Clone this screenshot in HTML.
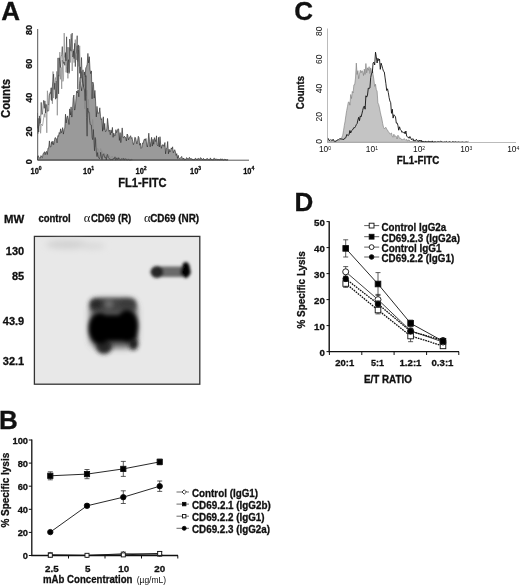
<!DOCTYPE html>
<html><head><meta charset="utf-8"><title>Figure</title>
<style>
html,body{margin:0;padding:0;background:#fff;}
body{width:520px;height:587px;overflow:hidden;}
svg{display:block;will-change:transform;}
text{font-family:"Liberation Sans",sans-serif;fill:#111;}
.s{font-family:"Liberation Serif",serif;}
.b{font-weight:bold;stroke:#111;stroke-width:0.3px;}
.r{font-weight:normal;}
</style></head><body>
<svg width="520" height="587" viewBox="0 0 520 587">
<defs>
<filter id="bl3" x="-30%" y="-50%" width="160%" height="200%"><feGaussianBlur stdDeviation="3"/></filter>
<filter id="bl2" x="-30%" y="-30%" width="160%" height="160%"><feGaussianBlur stdDeviation="2"/></filter>
<filter id="bl15" x="-30%" y="-50%" width="160%" height="200%"><feGaussianBlur stdDeviation="1.5"/></filter>
</defs>
<rect width="520" height="587" fill="#fff"/>
<path d="M37.5 160.0 L37.5 156.7 L38.2 155.7 L38.9 157.2 L39.6 158.1 L40.3 158.2 L41.0 155.6 L41.7 157.2 L42.4 157.7 L43.1 153.6 L43.8 153.2 L44.5 151.7 L45.2 154.7 L45.9 151.9 L46.6 151.3 L47.3 154.5 L48.0 148.1 L48.7 147.9 L49.4 140.9 L50.1 146.7 L50.8 147.0 L51.5 141.7 L52.2 144.4 L52.9 141.1 L53.6 144.7 L54.3 141.6 L55.0 137.7 L55.7 137.8 L56.4 139.0 L57.1 142.8 L57.8 135.7 L58.5 136.2 L59.2 132.5 L59.9 133.6 L60.6 128.8 L61.3 132.8 L62.0 130.7 L62.7 127.6 L63.4 134.1 L64.1 129.3 L64.8 128.2 L65.5 114.2 L66.2 122.9 L66.9 117.4 L67.6 115.9 L68.3 119.1 L69.0 124.5 L69.7 108.9 L70.4 115.0 L71.1 106.9 L71.8 117.1 L72.5 110.4 L73.2 98.2 L73.9 95.0 L74.6 110.1 L75.3 108.4 L76.0 98.2 L76.7 91.1 L77.4 92.9 L78.1 89.9 L78.8 96.8 L79.5 83.5 L80.2 77.3 L80.9 85.9 L81.6 90.8 L82.3 83.6 L83.0 69.8 L83.7 86.5 L84.4 71.9 L85.1 76.7 L85.8 67.9 L86.5 66.7 L87.2 64.2 L87.9 53.4 L88.6 62.9 L89.3 56.7 L90.0 69.2 L90.7 73.6 L91.4 70.9 L92.1 98.8 L92.8 82.0 L93.5 84.5 L94.2 98.1 L94.9 90.4 L95.6 101.1 L96.3 116.9 L97.0 106.4 L97.7 113.4 L98.4 113.0 L99.1 113.2 L99.8 107.8 L100.5 116.6 L101.2 119.6 L101.9 118.6 L102.6 131.2 L103.3 116.8 L104.0 129.7 L104.7 123.4 L105.4 131.6 L106.1 131.3 L106.8 129.0 L107.5 118.4 L108.2 124.6 L108.9 131.3 L109.6 130.2 L110.3 134.7 L111.0 129.9 L111.7 132.9 L112.4 127.4 L113.1 137.3 L113.8 133.1 L114.5 135.8 L115.2 135.6 L115.9 129.7 L116.6 132.6 L117.3 130.9 L118.0 128.7 L118.7 129.2 L119.4 140.4 L120.1 132.6 L120.8 142.6 L121.5 135.8 L122.2 127.9 L122.9 137.0 L123.6 138.1 L124.3 136.2 L125.0 137.2 L125.7 137.5 L126.4 141.0 L127.1 134.0 L127.8 135.1 L128.5 139.8 L129.2 137.9 L129.9 136.9 L130.6 135.7 L131.3 138.4 L132.0 137.5 L132.7 141.4 L133.4 144.6 L134.1 142.7 L134.8 137.3 L135.5 137.7 L136.2 141.0 L136.9 143.9 L137.6 140.9 L138.3 136.3 L139.0 137.7 L139.7 145.2 L140.4 143.2 L141.1 148.4 L141.8 147.5 L142.5 143.0 L143.2 143.5 L143.9 140.1 L144.6 138.9 L145.3 140.4 L146.0 138.5 L146.7 145.0 L147.4 147.0 L148.1 141.1 L148.8 133.2 L149.5 141.4 L150.2 146.8 L150.9 141.6 L151.6 137.3 L152.3 146.1 L153.0 139.3 L153.7 144.3 L154.4 137.6 L155.1 139.6 L155.8 141.6 L156.5 135.8 L157.2 144.7 L157.9 145.9 L158.6 137.3 L159.3 147.0 L160.0 136.7 L160.7 144.6 L161.4 148.3 L162.1 145.0 L162.8 144.8 L163.5 144.9 L164.2 146.4 L164.9 142.5 L165.6 153.8 L166.3 148.3 L167.0 147.7 L167.7 141.5 L168.4 153.8 L169.1 149.2 L169.8 152.1 L170.5 151.1 L171.2 147.9 L171.9 149.0 L172.6 146.8 L173.3 152.8 L174.0 151.0 L174.7 149.7 L175.4 151.6 L176.1 155.4 L176.8 153.6 L177.5 158.4 L178.2 155.3 L178.9 158.2 L179.6 158.6 L180.3 158.1 L181.0 157.4 L181.7 156.4 L182.4 158.8 L183.1 159.1 L183.8 158.0 L184.5 159.8 L185.2 159.6 L185.9 159.3 L186.6 157.6 L187.3 158.6 L188.0 158.7 L188.7 158.9 L189.4 157.3 L190.1 158.6 L190.8 158.8 L191.5 158.6 L192.2 159.6 L192.9 159.1 L193.6 159.7 L194.3 159.8 L195.0 158.5 L195.7 158.3 L196.4 159.0 L197.1 159.9 L197.8 158.5 L198.5 158.4 L199.2 159.1 L199.9 159.2 L200.6 157.6 L201.3 158.5 L202.0 158.9 L202.7 159.6 L203.4 158.3 L204.1 159.2 L204.8 159.7 L205.5 159.7 L206.2 158.8 L206.9 159.1 L207.6 158.5 L208.3 159.5 L209.0 159.9 L209.7 159.7 L210.4 157.9 L211.1 159.4 L211.8 159.6 L212.5 159.7 L213.2 159.9 L213.9 158.2 L214.6 158.4 L215.3 159.0 L216.0 159.5 L216.7 158.8 L217.4 159.7 L218.1 159.5 L218.8 159.5 L219.5 159.7 L220.2 159.1 L220.9 159.1 L221.6 159.3 L222.3 159.1 L223.0 159.6 L223.7 160.0 L224.4 159.4 L225.1 159.4 L225.8 159.6 L226.5 159.9 L227.2 160.0 L227.9 159.6 L227.9 160.0 Z" fill="#9a9a9a" stroke="#222" stroke-width="0.6" stroke-linejoin="round"/>
<path d="M37.5 112.9 L37.5 112.9 L38.1 133.6 L38.7 125.7 L39.4 125.5 L40.0 118.5 L40.6 133.3 L41.2 124.0 L41.8 124.8 L42.5 125.7 L43.1 122.0 L43.7 117.5 L44.3 113.8 L44.9 117.3 L45.6 103.8 L46.2 110.5 L46.8 132.8 L47.4 90.8 L48.0 103.6 L48.7 105.1 L49.3 93.5 L49.9 92.3 L50.5 92.4 L51.1 99.8 L51.8 87.7 L52.4 103.8 L53.0 71.5 L53.6 98.1 L54.2 85.4 L54.9 81.4 L55.5 77.6 L56.1 81.0 L56.7 71.4 L57.3 115.3 L58.0 75.9 L58.6 74.9 L59.2 76.3 L59.8 52.1 L60.4 79.3 L61.1 67.4 L61.7 88.9 L62.3 60.1 L62.9 81.4 L63.5 79.4 L64.2 33.1 L64.8 57.4 L65.4 53.7 L66.0 72.3 L66.6 66.5 L67.3 47.1 L67.9 78.4 L68.5 47.3 L69.1 72.1 L69.7 47.5 L70.4 62.5 L71.0 34.2 L71.6 53.2 L72.2 71.0 L72.8 57.8 L73.5 49.5 L74.1 62.6 L74.7 47.4 L75.3 39.6 L75.9 54.0 L76.6 59.9 L77.2 45.8 L77.8 61.5 L78.4 49.9 L79.0 66.5 L79.7 45.8 L80.3 70.8 L80.9 82.3 L81.5 71.5 L82.1 82.4 L82.8 88.4 L83.4 81.9 L84.0 75.1 L84.6 108.8 L85.2 88.9 L85.9 92.7 L86.5 95.6 L87.1 90.1 L87.7 114.1 L88.3 99.4 L89.0 111.3 L89.6 112.1 L90.2 119.0 L90.8 123.8 L91.4 129.2 L92.1 126.5 L92.7 119.4 L93.3 129.5 L93.9 133.9 L94.5 138.7 L95.2 147.0 L95.8 144.5 L96.4 139.5 L97.0 155.6 L97.6 148.3 L98.3 149.3 L98.9 153.4 L99.5 152.3 L100.1 150.7 L100.7 148.5 L101.4 151.6 L102.0 150.9 L102.6 155.1 L103.2 154.0 L103.8 156.1 L104.5 156.0 L105.1 158.2 L105.7 155.4 L106.3 153.6 L106.9 157.7 L107.6 156.8 L108.2 156.1 L108.8 157.6 L109.4 155.7 L110.0 157.4 L110.7 159.5 L111.3 156.6 L111.9 157.0 L112.5 156.2 L113.1 158.0 L113.8 158.2 L114.4 159.3 L115.0 159.5 L115.6 159.7 L116.2 158.5 L116.9 159.6 L117.5 159.6 L118.1 157.9 L118.7 158.4 L119.3 159.7 L120.0 159.8 L120.6 160.0 L121.2 158.2 L121.8 159.6 L122.4 159.7 L123.1 157.8 L123.7 159.3 L124.3 159.3 L124.9 159.3 L125.5 158.9 L126.2 159.5 L126.8 158.3 L127.4 159.4 L128.0 159.9 L128.6 158.6 L129.3 159.9 L129.9 159.4 L130.5 159.8 L131.1 159.3 L131.7 159.4 L132.4 159.6" fill="none" stroke="#8a8a8a" stroke-width="0.7" stroke-linejoin="round"/>
<path d="M37.5 128.4 L37.5 128.4 L38.1 118.3 L38.7 132.0 L39.4 115.9 L40.0 123.4 L40.6 121.5 L41.2 102.4 L41.8 114.4 L42.5 114.1 L43.1 105.7 L43.7 100.3 L44.3 108.3 L44.9 100.9 L45.6 113.1 L46.2 105.7 L46.8 104.5 L47.4 111.2 L48.0 111.2 L48.7 110.8 L49.3 95.7 L49.9 93.5 L50.5 93.4 L51.1 87.8 L51.8 100.7 L52.4 86.1 L53.0 81.2 L53.6 74.1 L54.2 89.5 L54.9 83.2 L55.5 99.2 L56.1 81.0 L56.7 98.3 L57.3 88.1 L58.0 57.9 L58.6 93.9 L59.2 57.8 L59.8 61.5 L60.4 67.5 L61.1 56.8 L61.7 54.4 L62.3 46.6 L62.9 60.5 L63.5 63.4 L64.2 62.1 L64.8 65.3 L65.4 52.5 L66.0 60.9 L66.6 36.8 L67.3 72.9 L67.9 62.3 L68.5 59.7 L69.1 73.4 L69.7 39.1 L70.4 48.6 L71.0 51.2 L71.6 37.7 L72.2 33.1 L72.8 57.1 L73.5 51.0 L74.1 58.6 L74.7 43.3 L75.3 66.6 L75.9 54.6 L76.6 51.2 L77.2 35.7 L77.8 89.2 L78.4 44.9 L79.0 54.3 L79.7 73.3 L80.3 66.9 L80.9 78.2 L81.5 57.5 L82.1 76.1 L82.8 83.3 L83.4 86.1 L84.0 88.4 L84.6 90.8 L85.2 100.6 L85.9 75.6 L86.5 117.4 L87.1 136.2 L87.7 108.1 L88.3 112.1 L89.0 111.9 L89.6 120.7 L90.2 124.3 L90.8 125.0 L91.4 125.1 L92.1 137.4 L92.7 139.7 L93.3 129.5 L93.9 140.4 L94.5 150.8 L95.2 137.5 L95.8 146.1 L96.4 153.1 L97.0 156.6 L97.6 152.6 L98.3 157.1 L98.9 158.0 L99.5 158.9 L100.1 156.7 L100.7 152.2 L101.4 157.0 L102.0 159.7 L102.6 156.1 L103.2 154.3 L103.8 153.7 L104.5 157.3 L105.1 157.4 L105.7 157.3 L106.3 160.0 L106.9 155.8 L107.6 154.4 L108.2 157.3 L108.8 158.3 L109.4 158.5 L110.0 159.7 L110.7 159.8 L111.3 159.1 L111.9 159.8 L112.5 159.8 L113.1 158.4 L113.8 158.9 L114.4 158.7 L115.0 156.8 L115.6 159.8 L116.2 159.8 L116.9 157.8 L117.5 159.5 L118.1 159.5 L118.7 157.7 L119.3 159.1 L120.0 159.6 L120.6 159.7 L121.2 159.8 L121.8 158.6 L122.4 159.2 L123.1 159.8 L123.7 158.4 L124.3 159.8 L124.9 159.8 L125.5 158.7 L126.2 159.5 L126.8 159.8 L127.4 159.9 L128.0 159.4 L128.6 159.5 L129.3 160.0 L129.9 159.7 L130.5 159.9 L131.1 159.6 L131.7 159.8 L132.4 159.7" fill="none" stroke="#2e2e2e" stroke-width="0.6" stroke-linejoin="round"/>
<path d="M37.7 29 V160.2 H249" fill="none" stroke="#444" stroke-width="0.9"/>
<text transform="translate(32.2,161.8) rotate(-90)" text-anchor="middle" class="b" font-size="9">0</text>
<text transform="translate(32.2,131.5) rotate(-90)" text-anchor="middle" class="b" font-size="9">20</text>
<text transform="translate(32.2,97.7) rotate(-90)" text-anchor="middle" class="b" font-size="9">40</text>
<text transform="translate(32.2,63.8) rotate(-90)" text-anchor="middle" class="b" font-size="9">60</text>
<text transform="translate(32.2,30.1) rotate(-90)" text-anchor="middle" class="b" font-size="9">80</text>
<text x="30.5" y="173.6" class="b" font-size="9"><tspan textLength="8.3" lengthAdjust="spacingAndGlyphs">10</tspan><tspan dy="-3.2" font-size="5">0</tspan></text>
<text x="83.0" y="173.6" class="b" font-size="9"><tspan textLength="8.3" lengthAdjust="spacingAndGlyphs">10</tspan><tspan dy="-3.2" font-size="5">1</tspan></text>
<text x="135.5" y="173.6" class="b" font-size="9"><tspan textLength="8.3" lengthAdjust="spacingAndGlyphs">10</tspan><tspan dy="-3.2" font-size="5">2</tspan></text>
<text x="190.0" y="173.6" class="b" font-size="9"><tspan textLength="8.3" lengthAdjust="spacingAndGlyphs">10</tspan><tspan dy="-3.2" font-size="5">3</tspan></text>
<text x="243.2" y="173.6" class="b" font-size="9"><tspan textLength="8.3" lengthAdjust="spacingAndGlyphs">10</tspan><tspan dy="-3.2" font-size="5">4</tspan></text>
<text transform="translate(10,118) rotate(-90)" class="b" font-size="12" textLength="39" lengthAdjust="spacingAndGlyphs">Counts</text>
<text x="118.2" y="187.3" class="b" font-size="12" textLength="48.5" lengthAdjust="spacingAndGlyphs">FL1-FITC</text>
<text x="1.3" y="19.7" class="b" font-size="26">A</text>
<path d="M327.5 142.3 L327.5 139.4 L328.3 139.3 L329.1 140.2 L329.9 141.3 L330.7 141.9 L331.5 141.0 L332.3 140.7 L333.1 140.3 L333.9 141.9 L334.7 142.0 L335.5 140.7 L336.3 140.8 L337.1 140.1 L337.9 140.2 L338.7 140.8 L339.5 140.7 L340.3 138.2 L341.1 139.0 L341.9 137.2 L342.7 135.3 L343.5 130.7 L344.3 125.4 L345.1 121.2 L345.9 115.4 L346.7 110.5 L347.5 106.4 L348.3 102.2 L349.1 101.9 L349.9 105.2 L350.7 94.5 L351.5 98.5 L352.3 91.4 L353.1 92.9 L353.9 84.8 L354.7 84.6 L355.5 78.0 L356.3 63.1 L357.1 74.5 L357.9 70.6 L358.7 78.7 L359.5 74.3 L360.3 70.2 L361.1 72.8 L361.9 70.6 L362.7 71.3 L363.5 75.5 L364.3 69.1 L365.1 74.4 L365.9 63.5 L366.7 72.8 L367.5 67.8 L368.3 70.4 L369.1 66.7 L369.9 73.5 L370.7 67.9 L371.5 73.0 L372.3 68.8 L373.1 74.6 L373.9 79.8 L374.7 86.4 L375.5 84.2 L376.3 89.6 L377.1 91.2 L377.9 102.9 L378.7 104.5 L379.5 108.1 L380.3 112.2 L381.1 115.8 L381.9 119.1 L382.7 123.6 L383.5 127.2 L384.3 128.7 L385.1 128.0 L385.9 127.3 L386.7 129.2 L387.5 130.1 L388.3 131.6 L389.1 132.5 L389.9 133.9 L390.7 133.7 L391.5 133.0 L392.3 136.5 L393.1 137.2 L393.9 134.2 L394.7 136.6 L395.5 136.0 L396.3 136.4 L397.1 139.0 L397.9 135.2 L398.7 136.3 L399.5 138.3 L400.3 138.0 L401.1 138.8 L401.9 140.0 L402.7 139.5 L403.5 139.2 L404.3 138.8 L405.1 139.4 L405.9 140.2 L406.7 139.3 L407.5 141.2 L408.3 140.1 L409.1 139.9 L409.9 141.0 L410.7 142.2 L411.5 141.6 L412.3 140.9 L413.1 140.8 L413.9 140.2 L414.7 141.9 L415.5 141.3 L416.3 141.0 L417.1 141.6 L417.9 142.0 L418.7 140.4 L419.5 141.2 L420.3 142.2 L421.1 142.0 L421.9 141.8 L422.7 140.8 L423.5 141.7 L424.3 141.9 L425.1 141.3 L425.9 142.0 L426.7 141.4 L427.5 142.3 L428.3 142.2 L429.1 141.9 L429.9 141.6 L430.7 141.9 L431.5 142.1 L432.3 142.0 L433.1 142.1 L433.9 142.0 L434.7 142.0 L435.5 142.3 L435.5 142.3 Z" fill="#c4c4c4" stroke="#777" stroke-width="0.6" stroke-linejoin="round"/>
<path d="M327.5 138.2 L327.5 138.2 L328.3 138.5 L329.1 140.4 L329.9 140.6 L330.7 139.6 L331.5 140.3 L332.3 140.5 L333.1 139.2 L333.9 140.8 L334.7 141.3 L335.5 141.4 L336.3 140.9 L337.1 140.2 L337.9 139.9 L338.7 139.5 L339.5 138.9 L340.3 138.8 L341.1 139.4 L341.9 138.8 L342.7 139.2 L343.5 140.0 L344.3 138.4 L345.1 138.2 L345.9 137.7 L346.7 134.6 L347.5 135.0 L348.3 135.6 L349.1 134.3 L349.9 130.5 L350.7 133.0 L351.5 130.8 L352.3 130.2 L353.1 129.0 L353.9 127.5 L354.7 127.8 L355.5 126.5 L356.3 124.6 L357.1 123.6 L357.9 120.1 L358.7 117.3 L359.5 120.7 L360.3 115.9 L361.1 116.8 L361.9 113.8 L362.7 110.4 L363.5 107.2 L364.3 106.1 L365.1 109.2 L365.9 95.8 L366.7 97.1 L367.5 95.0 L368.3 88.1 L369.1 88.7 L369.9 88.0 L370.7 77.6 L371.5 73.4 L372.3 73.0 L373.1 62.9 L373.9 62.1 L374.7 65.0 L375.5 52.2 L376.3 56.9 L377.1 63.0 L377.9 58.3 L378.7 60.5 L379.5 59.0 L380.3 69.3 L381.1 63.2 L381.9 65.7 L382.7 68.7 L383.5 71.2 L384.3 72.0 L385.1 77.9 L385.9 83.7 L386.7 90.5 L387.5 88.8 L388.3 92.5 L389.1 97.5 L389.9 101.0 L390.7 102.7 L391.5 113.3 L392.3 109.2 L393.1 118.1 L393.9 114.7 L394.7 115.7 L395.5 116.9 L396.3 123.1 L397.1 122.9 L397.9 125.2 L398.7 130.2 L399.5 126.8 L400.3 129.4 L401.1 130.2 L401.9 132.4 L402.7 131.9 L403.5 132.6 L404.3 131.9 L405.1 133.9 L405.9 131.0 L406.7 136.3 L407.5 136.9 L408.3 137.1 L409.1 138.3 L409.9 136.5 L410.7 137.8 L411.5 139.9 L412.3 139.1 L413.1 138.7 L413.9 141.1 L414.7 140.4 L415.5 140.8 L416.3 139.3 L417.1 140.5 L417.9 141.1 L418.7 141.3 L419.5 140.0 L420.3 141.4 L421.1 140.0 L421.9 142.1 L422.7 141.5 L423.5 141.6 L424.3 141.9 L425.1 141.7 L425.9 141.4 L426.7 142.0 L427.5 141.7 L428.3 141.1 L429.1 142.0 L429.9 141.6 L430.7 141.8 L431.5 142.1 L432.3 140.9 L433.1 142.3 L433.9 142.2 L434.7 141.8 L435.5 141.7 L436.3 142.1 L437.1 141.6 L437.9 141.9 L438.7 141.6 L439.5 141.8 L440.3 141.3 L441.1 141.6 L441.9 141.6 L442.7 142.1 L443.5 142.1 L444.3 141.8 L445.1 142.2 L445.9 141.7 L446.7 141.5 L447.5 142.2 L448.3 142.1 L449.1 141.7 L449.9 141.7 L450.7 142.1 L451.5 142.3 L452.3 141.7 L453.1 141.7 L453.9 142.0 L454.7 142.0 L455.5 141.7 L456.3 142.1 L457.1 141.9 L457.9 142.3 L458.7 141.8 L459.5 142.1 L460.3 142.2 L461.1 142.0 L461.9 142.2 L462.7 141.9 L463.5 142.2 L464.3 142.3 L465.1 142.0 L465.9 142.1 L466.7 141.9 L467.5 142.1 L468.3 141.5" fill="none" stroke="#111" stroke-width="0.9" stroke-linejoin="round"/>
<path d="M327.5 28.5 V142.5 H516" fill="none" stroke="#aaa" stroke-width="0.8"/>
<text transform="translate(322.4,141.5) rotate(-90)" text-anchor="middle" class="r" fill="#333" font-size="8.5">0</text>
<text transform="translate(322.4,116.7) rotate(-90)" text-anchor="middle" class="r" fill="#333" font-size="8.5">20</text>
<text transform="translate(322.4,88.5) rotate(-90)" text-anchor="middle" class="r" fill="#333" font-size="8.5">40</text>
<text transform="translate(322.4,59.3) rotate(-90)" text-anchor="middle" class="r" fill="#333" font-size="8.5">60</text>
<text transform="translate(322.4,31.3) rotate(-90)" text-anchor="middle" class="r" fill="#333" font-size="8.5">80</text>
<text x="318.9" y="152.4" class="r" fill="#333" font-size="8.4">10<tspan dy="-2.8" font-size="5">0</tspan></text>
<text x="365.8" y="152.4" class="r" fill="#333" font-size="8.4">10<tspan dy="-2.8" font-size="5">1</tspan></text>
<text x="413.0" y="152.4" class="r" fill="#333" font-size="8.4">10<tspan dy="-2.8" font-size="5">2</tspan></text>
<text x="460.2" y="152.4" class="r" fill="#333" font-size="8.4">10<tspan dy="-2.8" font-size="5">3</tspan></text>
<text x="507.2" y="152.4" class="r" fill="#333" font-size="8.4">10<tspan dy="-2.8" font-size="5">4</tspan></text>
<text transform="translate(304.4,109.2) rotate(-90)" class="b" font-size="10" textLength="33.2" lengthAdjust="spacingAndGlyphs">Counts</text>
<text x="396.8" y="164.4" class="b" font-size="10" textLength="42.4" lengthAdjust="spacingAndGlyphs">FL1-FITC</text>
<text x="294.3" y="19.5" class="b" font-size="26">C</text>
<text x="4" y="222.8" class="b" font-size="11.3" textLength="20.2" lengthAdjust="spacingAndGlyphs">MW</text>
<text x="38.4" y="221.8" class="b" font-size="10.2" textLength="32.3" lengthAdjust="spacingAndGlyphs">control</text>
<text x="83.8" y="221.8" class="r s" font-size="12.5">α</text>
<text x="90.9" y="221.8" class="b" font-size="10.2" textLength="40.4" lengthAdjust="spacingAndGlyphs">CD69 (R)</text>
<text x="144" y="221.8" class="r s" font-size="12.5">α</text>
<text x="150.2" y="221.8" class="b" font-size="10.2" textLength="48.9" lengthAdjust="spacingAndGlyphs">CD69 (NR)</text>
<text x="24.2" y="254.9" text-anchor="end" class="b" font-size="11">130</text>
<text x="24.2" y="279.6" text-anchor="end" class="b" font-size="11">85</text>
<text x="24.2" y="324.8" text-anchor="end" class="b" font-size="11">43.9</text>
<text x="24.2" y="364.8" text-anchor="end" class="b" font-size="11">32.1</text>
<rect x="34.4" y="236.4" width="165.4" height="147.8" fill="#e8e8e8" stroke="#333" stroke-width="1.3"/>
<g filter="url(#bl3)"><ellipse cx="68" cy="244.5" rx="22" ry="4.5" fill="#d2d2d2"/><ellipse cx="92" cy="246" rx="13" ry="3.5" fill="#d9d9d9"/></g>
<g filter="url(#bl3)"><rect x="90" y="299" width="47" height="49" rx="10" fill="#5a5a5a"/></g>
<g filter="url(#bl2)"><rect x="90" y="298.5" width="46" height="13" rx="5" fill="#454545"/><ellipse cx="96" cy="304" rx="6.5" ry="5.5" fill="#2a2a2a"/><ellipse cx="127" cy="303.5" rx="8" ry="5" fill="#3a3a3a"/><ellipse cx="109" cy="304" rx="4" ry="4" fill="#6a6a6a"/><ellipse cx="104" cy="346.5" rx="8" ry="7.5" fill="#262626"/><ellipse cx="133.5" cy="344" rx="4.5" ry="6" fill="#1c1c1c"/></g>
<g filter="url(#bl2)"><ellipse cx="100" cy="328.5" rx="11.5" ry="15.5" fill="#000"/><ellipse cx="127" cy="326" rx="11" ry="16" fill="#000"/><rect x="91" y="315" width="46" height="26" rx="7" fill="#000"/></g>
<g filter="url(#bl15)"><rect x="153" y="266.5" width="34" height="10.5" rx="5" fill="#6a6a6a"/><ellipse cx="157" cy="272" rx="6.5" ry="6" fill="#262626"/><ellipse cx="185.8" cy="270" rx="4.3" ry="8" fill="#000"/><ellipse cx="185.5" cy="272" rx="5.2" ry="5" fill="#000"/></g>
<text x="-1.0" y="429.0" class="b" font-size="26">B</text>
<path d="M31.8 439.6 V555.5 H178" fill="none" stroke="#111" stroke-width="1.3"/>
<path d="M28.8 555.5 H32" stroke="#111" stroke-width="1"/>
<text x="28.0" y="559.4" class="b" font-size="9.3" text-anchor="end">0</text>
<path d="M28.8 532.4 H32" stroke="#111" stroke-width="1"/>
<text x="28.0" y="536.3" class="b" font-size="9.3" text-anchor="end">20</text>
<path d="M28.8 509.3 H32" stroke="#111" stroke-width="1"/>
<text x="28.0" y="513.2" class="b" font-size="9.3" text-anchor="end">40</text>
<path d="M28.8 486.2 H32" stroke="#111" stroke-width="1"/>
<text x="28.0" y="490.1" class="b" font-size="9.3" text-anchor="end">60</text>
<path d="M28.8 463.1 H32" stroke="#111" stroke-width="1"/>
<text x="28.0" y="467.0" class="b" font-size="9.3" text-anchor="end">80</text>
<path d="M28.8 440.0 H32" stroke="#111" stroke-width="1"/>
<text x="28.0" y="443.9" class="b" font-size="9.3" text-anchor="end">100</text>
<path d="M68.5 555.5 V558.5" stroke="#111" stroke-width="1"/>
<path d="M105.0 555.5 V558.5" stroke="#111" stroke-width="1"/>
<path d="M141.5 555.5 V558.5" stroke="#111" stroke-width="1"/>
<path d="M177.8 555.5 V558.5" stroke="#111" stroke-width="1"/>
<text x="51.8" y="572.4" class="b" font-size="9.8" text-anchor="middle">2.5</text>
<text x="87.7" y="572.4" class="b" font-size="9.8" text-anchor="middle">5</text>
<text x="123.8" y="572.4" class="b" font-size="9.8" text-anchor="middle">10</text>
<text x="159.8" y="572.4" class="b" font-size="9.8" text-anchor="middle">20</text>
<text x="43.0" y="583.4" class="b" font-size="10.8" textLength="89.4" lengthAdjust="spacingAndGlyphs">mAb Concentration</text>
<text x="136.7" y="583.4" class="r" font-size="9" textLength="29.4" lengthAdjust="spacingAndGlyphs">(µg/mL)</text>
<text transform="translate(9.2,527.6) rotate(-90)" class="b" font-size="10.5" textLength="74.8" lengthAdjust="spacingAndGlyphs">% Specific lysis</text>
<polyline points="50.3,475.8 87.0,474.1 123.3,468.9 159.7,461.9" fill="none" stroke="#111" stroke-width="0.9"/><path d="M50.3 471.8 V479.8 M47.8 471.8 H52.8 M47.8 479.8 H52.8" stroke="#333" stroke-width="0.8" fill="none"/><path d="M87.0 469.5 V478.7 M84.5 469.5 H89.5 M84.5 478.7 H89.5" stroke="#333" stroke-width="0.8" fill="none"/><path d="M123.3 461.4 V476.4 M120.8 461.4 H125.8 M120.8 476.4 H125.8" stroke="#333" stroke-width="0.8" fill="none"/><path d="M159.7 459.1 V464.8 M157.2 459.1 H162.2 M157.2 464.8 H162.2" stroke="#333" stroke-width="0.8" fill="none"/><rect x="47.7" y="473.2" width="5.2" height="5.2" fill="#000" stroke="#111" stroke-width="0.9"/><rect x="84.4" y="471.5" width="5.2" height="5.2" fill="#000" stroke="#111" stroke-width="0.9"/><rect x="120.7" y="466.3" width="5.2" height="5.2" fill="#000" stroke="#111" stroke-width="0.9"/><rect x="157.1" y="459.3" width="5.2" height="5.2" fill="#000" stroke="#111" stroke-width="0.9"/>
<polyline points="50.3,532.1 87.0,505.8 123.3,497.2 159.7,486.2" fill="none" stroke="#111" stroke-width="0.9"/><path d="M87.0 504.1 V507.6 M84.5 504.1 H89.5 M84.5 507.6 H89.5" stroke="#333" stroke-width="0.8" fill="none"/><path d="M123.3 490.8 V503.5 M120.8 490.8 H125.8 M120.8 503.5 H125.8" stroke="#333" stroke-width="0.8" fill="none"/><path d="M159.7 481.0 V491.4 M157.2 481.0 H162.2 M157.2 491.4 H162.2" stroke="#333" stroke-width="0.8" fill="none"/><circle cx="50.3" cy="532.1" r="2.7" fill="#000" stroke="#111" stroke-width="0.9"/><circle cx="87.0" cy="505.8" r="2.7" fill="#000" stroke="#111" stroke-width="0.9"/><circle cx="123.3" cy="497.2" r="2.7" fill="#000" stroke="#111" stroke-width="0.9"/><circle cx="159.7" cy="486.2" r="2.7" fill="#000" stroke="#111" stroke-width="0.9"/>
<polyline points="50.3,554.9 87.0,555.5 123.3,553.8 159.7,554.1" fill="none" stroke="#111" stroke-width="0.9"/><path d="M50.3 552.6 V557.2 M47.8 552.6 H52.8 M47.8 557.2 H52.8" stroke="#333" stroke-width="0.8" fill="none"/><path d="M123.3 552.0 V555.5 M120.8 552.0 H125.8 M120.8 555.5 H125.8" stroke="#333" stroke-width="0.8" fill="none"/><path d="M159.7 551.8 V556.4 M157.2 551.8 H162.2 M157.2 556.4 H162.2" stroke="#333" stroke-width="0.8" fill="none"/><path d="M47.9 554.9 l2.4 -2.4 l2.4 2.4 l-2.4 2.4 Z" fill="#fff" stroke="#111" stroke-width="0.8"/><path d="M84.6 555.5 l2.4 -2.4 l2.4 2.4 l-2.4 2.4 Z" fill="#fff" stroke="#111" stroke-width="0.8"/><path d="M120.9 553.8 l2.4 -2.4 l2.4 2.4 l-2.4 2.4 Z" fill="#fff" stroke="#111" stroke-width="0.8"/><path d="M157.3 554.1 l2.4 -2.4 l2.4 2.4 l-2.4 2.4 Z" fill="#fff" stroke="#111" stroke-width="0.8"/>
<polyline points="50.3,555.2 87.0,555.3 123.3,554.9 159.7,553.4" fill="none" stroke="#111" stroke-width="0.9"/><path d="M159.7 551.7 V555.2 M157.2 551.7 H162.2 M157.2 555.2 H162.2" stroke="#333" stroke-width="0.8" fill="none"/><rect x="48.3" y="553.2" width="4.0" height="4.0" fill="#fff" stroke="#111" stroke-width="0.9"/><rect x="85.0" y="553.3" width="4.0" height="4.0" fill="#fff" stroke="#111" stroke-width="0.9"/><rect x="121.3" y="552.9" width="4.0" height="4.0" fill="#fff" stroke="#111" stroke-width="0.9"/><rect x="157.7" y="551.4" width="4.0" height="4.0" fill="#fff" stroke="#111" stroke-width="0.9"/>
<path d="M176.5 492.0 H189" stroke="#444" stroke-width="0.8"/>
<path d="M182.0 492.0 l2.2 -2.2 l2.2 2.2 l-2.2 2.2 Z" fill="#fff" stroke="#111" stroke-width="0.8"/>
<text x="192.0" y="496.7" class="b" font-size="10.5" textLength="66.0" lengthAdjust="spacingAndGlyphs">Control (IgG1)</text>
<path d="M176.5 504.1 H189" stroke="#444" stroke-width="0.8"/>
<rect x="182.5" y="502.4" width="3.4" height="3.4" fill="#000" stroke="#111" stroke-width="0.9"/>
<text x="192.0" y="508.8" class="b" font-size="10.5" textLength="78.8" lengthAdjust="spacingAndGlyphs">CD69.2.1 (IgG2b)</text>
<path d="M176.5 516.2 H189" stroke="#444" stroke-width="0.8"/>
<rect x="182.5" y="514.5" width="3.4" height="3.4" fill="#fff" stroke="#111" stroke-width="0.9"/>
<text x="192.0" y="520.9" class="b" font-size="10.5" textLength="72.5" lengthAdjust="spacingAndGlyphs">CD69.2.2 (IgG1)</text>
<path d="M176.5 528.3 H189" stroke="#444" stroke-width="0.8"/>
<circle cx="184.2" cy="528.3" r="2.0" fill="#000" stroke="#111" stroke-width="0.9"/>
<text x="192.0" y="533.0" class="b" font-size="10.5" textLength="78.0" lengthAdjust="spacingAndGlyphs">CD69.2.3 (IgG2a)</text>
<text x="294.5" y="210.8" class="b" font-size="26">D</text>
<path d="M329.2 221.5 V351.6 H459" fill="none" stroke="#111" stroke-width="1.4"/>
<path d="M326.5 351.6 H329.5" stroke="#111" stroke-width="1"/>
<text x="324.9" y="356.0" class="b" font-size="9.7" text-anchor="end">0</text>
<path d="M326.5 325.6 H329.5" stroke="#111" stroke-width="1"/>
<text x="324.9" y="330.0" class="b" font-size="9.7" text-anchor="end">10</text>
<path d="M326.5 299.6 H329.5" stroke="#111" stroke-width="1"/>
<text x="324.9" y="304.0" class="b" font-size="9.7" text-anchor="end">20</text>
<path d="M326.5 273.6 H329.5" stroke="#111" stroke-width="1"/>
<text x="324.9" y="278.0" class="b" font-size="9.7" text-anchor="end">30</text>
<path d="M326.5 247.6 H329.5" stroke="#111" stroke-width="1"/>
<text x="324.9" y="252.0" class="b" font-size="9.7" text-anchor="end">40</text>
<path d="M326.5 221.6 H329.5" stroke="#111" stroke-width="1"/>
<text x="324.9" y="226.0" class="b" font-size="9.7" text-anchor="end">50</text>
<path d="M329.4 351.6 V355" stroke="#111" stroke-width="1"/>
<path d="M361.8 351.6 V355" stroke="#111" stroke-width="1"/>
<path d="M394.1 351.6 V355" stroke="#111" stroke-width="1"/>
<path d="M426.6 351.6 V355" stroke="#111" stroke-width="1"/>
<path d="M458.8 351.6 V355" stroke="#111" stroke-width="1"/>
<text x="335.3" y="366.3" class="b" font-size="9.8" textLength="19.0" lengthAdjust="spacingAndGlyphs">20:1</text>
<text x="371.0" y="366.3" class="b" font-size="9.8" textLength="13.0" lengthAdjust="spacingAndGlyphs">5:1</text>
<text x="399.5" y="366.3" class="b" font-size="9.8" textLength="22.0" lengthAdjust="spacingAndGlyphs">1.2:1</text>
<text x="431.5" y="366.3" class="b" font-size="9.8" textLength="22.0" lengthAdjust="spacingAndGlyphs">0.3:1</text>
<text x="363.9" y="383.0" class="b" font-size="10" textLength="48.0" lengthAdjust="spacingAndGlyphs">E/T RATIO</text>
<text transform="translate(304.9,328.5) rotate(-90)" class="b" font-size="10.5" textLength="77.4" lengthAdjust="spacingAndGlyphs">% Specific Lysis</text>
<polyline points="345.7,283.5 378.0,310.0 410.6,336.0 443.0,345.9" fill="none" stroke="#111" stroke-width="1.3" stroke-dasharray="1.7 0.9"/><path d="M345.7 279.6 V287.4 M343.2 279.6 H348.2 M343.2 287.4 H348.2" stroke="#333" stroke-width="0.8" fill="none"/><path d="M378.0 306.1 V313.9 M375.5 306.1 H380.5 M375.5 313.9 H380.5" stroke="#333" stroke-width="0.8" fill="none"/><path d="M410.6 330.3 V341.7 M408.1 330.3 H413.1 M408.1 341.7 H413.1" stroke="#333" stroke-width="0.8" fill="none"/><path d="M443.0 343.3 V348.5 M440.5 343.3 H445.5 M440.5 348.5 H445.5" stroke="#333" stroke-width="0.8" fill="none"/><rect x="342.9" y="280.7" width="5.6" height="5.6" fill="#fff" stroke="#111" stroke-width="0.9"/><rect x="375.2" y="307.2" width="5.6" height="5.6" fill="#fff" stroke="#111" stroke-width="0.9"/><rect x="407.8" y="333.2" width="5.6" height="5.6" fill="#fff" stroke="#111" stroke-width="0.9"/><rect x="440.2" y="343.1" width="5.6" height="5.6" fill="#fff" stroke="#111" stroke-width="0.9"/>
<polyline points="345.7,271.8 378.0,299.6 410.6,330.8 443.0,342.0" fill="none" stroke="#111" stroke-width="0.8"/><path d="M345.7 266.6 V277.0 M343.2 266.6 H348.2 M343.2 277.0 H348.2" stroke="#333" stroke-width="0.8" fill="none"/><path d="M378.0 294.4 V304.8 M375.5 294.4 H380.5 M375.5 304.8 H380.5" stroke="#333" stroke-width="0.8" fill="none"/><path d="M410.6 328.2 V333.4 M408.1 328.2 H413.1 M408.1 333.4 H413.1" stroke="#333" stroke-width="0.8" fill="none"/><path d="M443.0 339.9 V344.1 M440.5 339.9 H445.5 M440.5 344.1 H445.5" stroke="#333" stroke-width="0.8" fill="none"/><circle cx="345.7" cy="271.8" r="3.0" fill="#fff" stroke="#111" stroke-width="0.9"/><circle cx="378.0" cy="299.6" r="3.0" fill="#fff" stroke="#111" stroke-width="0.9"/><circle cx="410.6" cy="330.8" r="3.0" fill="#fff" stroke="#111" stroke-width="0.9"/><circle cx="443.0" cy="342.0" r="3.0" fill="#fff" stroke="#111" stroke-width="0.9"/>
<polyline points="345.7,278.8 378.0,304.0 410.6,331.3 443.0,340.4" fill="none" stroke="#111" stroke-width="1.3" stroke-dasharray="1.7 0.9"/><path d="M345.7 276.2 V281.4 M343.2 276.2 H348.2 M343.2 281.4 H348.2" stroke="#333" stroke-width="0.8" fill="none"/><path d="M378.0 300.9 V307.1 M375.5 300.9 H380.5 M375.5 307.1 H380.5" stroke="#333" stroke-width="0.8" fill="none"/><path d="M410.6 328.7 V333.9 M408.1 328.7 H413.1 M408.1 333.9 H413.1" stroke="#333" stroke-width="0.8" fill="none"/><path d="M443.0 339.1 V341.7 M440.5 339.1 H445.5 M440.5 341.7 H445.5" stroke="#333" stroke-width="0.8" fill="none"/><circle cx="345.7" cy="278.8" r="2.8" fill="#000" stroke="#111" stroke-width="0.9"/><circle cx="378.0" cy="304.0" r="2.8" fill="#000" stroke="#111" stroke-width="0.9"/><circle cx="410.6" cy="331.3" r="2.8" fill="#000" stroke="#111" stroke-width="0.9"/><circle cx="443.0" cy="340.4" r="2.8" fill="#000" stroke="#111" stroke-width="0.9"/>
<polyline points="345.7,248.4 378.0,284.0 410.6,323.3 443.0,341.2" fill="none" stroke="#111" stroke-width="0.9"/><path d="M345.7 239.8 V257.0 M343.2 239.8 H348.2 M343.2 257.0 H348.2" stroke="#333" stroke-width="0.8" fill="none"/><path d="M378.0 272.6 V295.4 M375.5 272.6 H380.5 M375.5 295.4 H380.5" stroke="#333" stroke-width="0.8" fill="none"/><path d="M410.6 320.1 V326.4 M408.1 320.1 H413.1 M408.1 326.4 H413.1" stroke="#333" stroke-width="0.8" fill="none"/><path d="M443.0 339.1 V343.3 M440.5 339.1 H445.5 M440.5 343.3 H445.5" stroke="#333" stroke-width="0.8" fill="none"/><rect x="342.9" y="245.6" width="5.6" height="5.6" fill="#000" stroke="#111" stroke-width="0.9"/><rect x="375.2" y="281.2" width="5.6" height="5.6" fill="#000" stroke="#111" stroke-width="0.9"/><rect x="407.8" y="320.5" width="5.6" height="5.6" fill="#000" stroke="#111" stroke-width="0.9"/><rect x="440.2" y="338.4" width="5.6" height="5.6" fill="#000" stroke="#111" stroke-width="0.9"/>
<path d="M364.2 225.6 H379.2" stroke="#333" stroke-width="0.8"/>
<rect x="369.2" y="223.2" width="4.8" height="4.8" fill="#fff" stroke="#111" stroke-width="0.9"/>
<text x="381.5" y="230.7" class="b" font-size="10.5" textLength="64.7" lengthAdjust="spacingAndGlyphs">Control IgG2a</text>
<path d="M364.2 236.7 H379.2" stroke="#333" stroke-width="0.8"/>
<rect x="369.2" y="234.3" width="4.8" height="4.8" fill="#000" stroke="#111" stroke-width="0.9"/>
<text x="381.5" y="241.8" class="b" font-size="10.5" textLength="78.5" lengthAdjust="spacingAndGlyphs">CD69.2.3 (IgG2a)</text>
<path d="M364.2 247.1 H379.2" stroke="#333" stroke-width="0.8"/>
<circle cx="371.6" cy="247.1" r="2.4" fill="#fff" stroke="#111" stroke-width="0.9"/>
<text x="381.5" y="252.2" class="b" font-size="10.5" textLength="60.0" lengthAdjust="spacingAndGlyphs">Control IgG1</text>
<path d="M364.2 257.0 H379.2" stroke="#333" stroke-width="0.8"/>
<circle cx="371.6" cy="257.0" r="2.3" fill="#000" stroke="#111" stroke-width="0.9"/>
<text x="381.5" y="262.1" class="b" font-size="10.5" textLength="72.7" lengthAdjust="spacingAndGlyphs">CD69.2.2 (IgG1)</text>
</svg>
</body></html>
